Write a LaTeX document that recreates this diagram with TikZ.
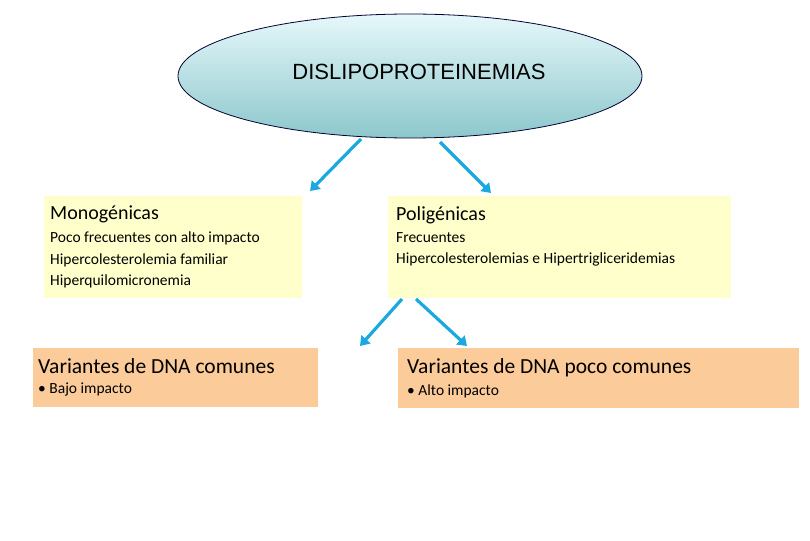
\documentclass[tikz,border=0pt]{standalone}
\usepackage{fontspec}
\setmainfont{Carlito}
\newfontfamily\arialf{Liberation Sans}
\usetikzlibrary{arrows.meta}
\definecolor{arr}{HTML}{1AA8E0}
\definecolor{ybox}{HTML}{FFFFCC}
\definecolor{pbox}{HTML}{FBCB9A}
\definecolor{etop}{HTML}{E6F8FA}
\definecolor{ebot}{HTML}{8CC7CC}
\tikzset{
 conn/.style={draw=arr,line width=3.2pt,-{Triangle[length=9pt,width=12pt]}},
 ttl/.style={anchor=west,inner sep=0,font=\fontsize{20}{24}\selectfont},
 body/.style={anchor=north west,inner sep=0,align=left,font=\fontsize{15.5}{21.5}\selectfont},
 ttlb/.style={anchor=west,inner sep=0,font=\fontsize{21.5}{26}\selectfont},
}
\begin{document}
\begin{tikzpicture}[x=1pt,y=-1pt]
\useasboundingbox (0,0) rectangle (810,540);
\shade[top color=etop,bottom color=ebot,draw=black!80!blue,line width=0.8pt] (410,76) ellipse [x radius=232,y radius=62];
\node[inner sep=0,font=\arialf\fontsize{22}{26}\selectfont] (title) at (419,72) {DISLIPOPROTEINEMIAS};
\coordinate (e1) at (361,139); \coordinate (e2) at (440,142);
\fill[ybox] (44,196) rectangle (302,298);
\node[ttl] (t1) at (50,214) {Monogénicas};
\node[body] (d1) at (50,232) {Poco frecuentes con alto impacto\\Hipercolesterolemia familiar\\Hiperquilomicronemia};
\fill[ybox] (388,196) rectangle (731,298);
\node[ttl] (t2) at (396,215) {Poligénicas};
\node[body] (d2) at (396,232) {Frecuentes\\Hipercolesterolemias e Hipertrigliceridemias};
\fill[pbox] (33,348) rectangle (318,407);
\node[ttlb] (t3) at (38,366) {Variantes de DNA comunes};
\node[body] (d3) at (38,383) {• Bajo impacto};
\fill[pbox] (398,348) rectangle (799,408);
\node[ttlb] (t4) at (407,368) {Variantes de DNA poco comunes};
\node[body] (d4) at (407,385) {• Alto impacto};
\coordinate (a1) at (310,191); \coordinate (a2) at (491,193);
\coordinate (s3) at (402,299); \coordinate (s4) at (416,299);
\coordinate (a3) at (360,346); \coordinate (a4) at (467,346);
\draw[conn] (e1) -- (a1);
\draw[conn] (e2) -- (a2);
\draw[conn] (s3) -- (a3);
\draw[conn] (s4) -- (a4);
\end{tikzpicture}
\end{document}
